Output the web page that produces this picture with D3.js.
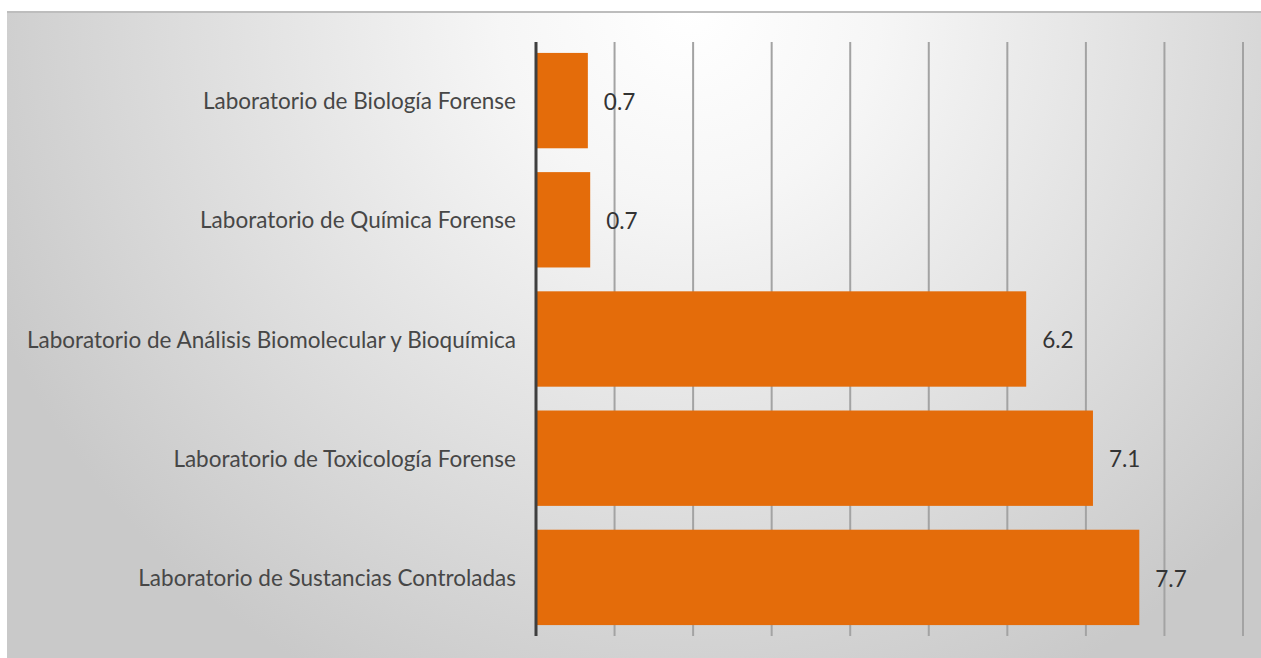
<!DOCTYPE html>
<html>
<head>
<meta charset="utf-8">
<script src="https://cdn.jsdelivr.net/npm/d3@7"></script>
<style>
html,body{margin:0;padding:0;background:#fff;}
svg{display:block;}
</style>
</head>
<body>
<svg id="chart" width="1261" height="658"></svg>
<script>
const categories = [
  "Laboratorio de Biología Forense",
  "Laboratorio de Química Forense",
  "Laboratorio de Análisis Biomolecular y Bioquímica",
  "Laboratorio de Toxicología Forense",
  "Laboratorio de Sustancias Controladas"
];
const values = [0.66, 0.69, 6.24, 7.09, 7.68];
const valueLabels = ["0.7", "0.7", "6.2", "7.1", "7.7"];
const xTicks = [0, 1, 2, 3, 4, 5, 6, 7, 8, 9];

const svg = d3.select("#chart");
const W = 1261, H = 658;
const font = "Lato, 'Open Sans', sans-serif";

const defs = svg.append("defs");
const grad = defs.append("radialGradient")
  .attr("id", "bg").attr("gradientUnits", "userSpaceOnUse")
  .attr("cx", 690).attr("cy", 10).attr("r", 760);
grad.append("stop").attr("offset", 0).attr("stop-color", "#ffffff");
grad.append("stop").attr("offset", 0.25).attr("stop-color", "#f6f6f6");
grad.append("stop").attr("offset", 1).attr("stop-color", "#c9c9c9");

svg.append("rect").attr("x", 7).attr("y", 12).attr("width", W - 7).attr("height", H - 12)
  .attr("fill", "url(#bg)");
svg.append("line").attr("x1", 7).attr("x2", W).attr("y1", 12).attr("y2", 12)
  .attr("stroke", "#bdbdbd").attr("stroke-width", 2);

const x = d3.scaleLinear().domain([0, 9]).range([536, 1243]);
const y = d3.scaleBand().domain(categories).range([41, 637]).paddingInner(0.2).paddingOuter(0.1);

const gridTop = 42, gridBottom = 636;

// gridlines
svg.append("g").selectAll("line").data(xTicks.filter(d => d > 0)).join("line")
  .attr("x1", d => x(d)).attr("x2", d => x(d))
  .attr("y1", gridTop).attr("y2", gridBottom)
  .attr("stroke", "#a3a3a3").attr("stroke-width", 2);

// bars
svg.append("g").selectAll("rect").data(categories).join("rect")
  .attr("x", x(0)).attr("y", d => y(d))
  .attr("width", (d, i) => x(values[i]) - x(0))
  .attr("height", y.bandwidth())
  .attr("fill", "#e46c0a");

// axis line
svg.append("line").attr("x1", x(0)).attr("x2", x(0)).attr("y1", gridTop).attr("y2", gridBottom)
  .attr("stroke", "#3f3f3f").attr("stroke-width", 3);

// category labels
const yAxis = d3.axisLeft(y).tickSize(0).tickPadding(20);
const ya = svg.append("g").attr("transform", `translate(${x(0)},0)`).call(yAxis);
ya.select(".domain").remove();
ya.selectAll("text").attr("font-family", font).attr("font-size", 22.5)
  .attr("fill", "#474747").attr("dy", "0.38em");

// value labels
svg.append("g").selectAll("text").data(categories).join("text")
  .attr("x", (d, i) => x(values[i]) + 16)
  .attr("y", d => y(d) + y.bandwidth() / 2 + 1)
  .attr("dy", "0.36em")
  .attr("font-family", font).attr("font-size", 22.5)
  .attr("fill", "#333333")
  .text((d, i) => valueLabels[i]);
</script>
</body>
</html>
